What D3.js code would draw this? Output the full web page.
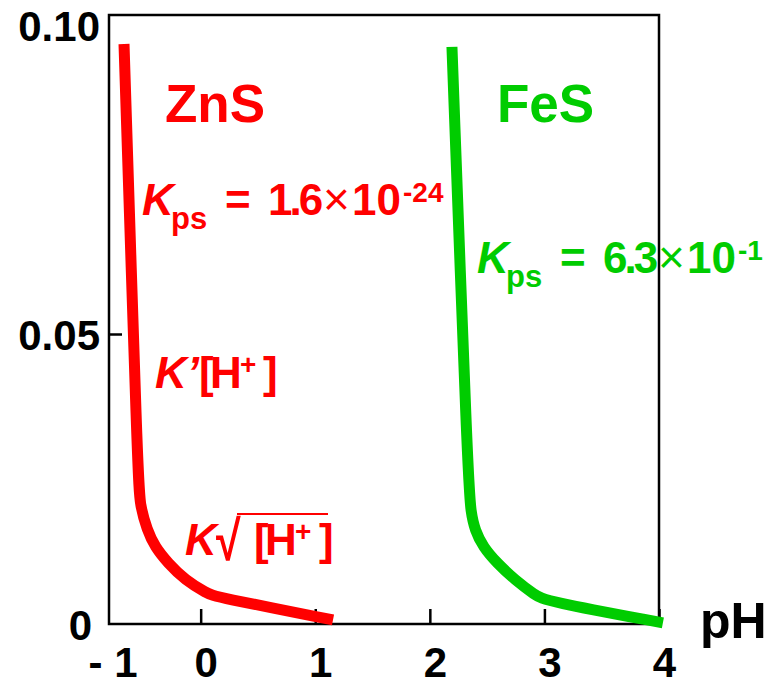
<!DOCTYPE html>
<meta charset="utf-8">
<script src="https://d3js.org/d3.v7.min.js"></script>
<style>
  body { margin: 0; background: #fff; }
  text { font-family: "Liberation Sans", Arial, sans-serif; font-weight: bold; }
</style>
<div id="viz"></div>
<script>
// values
var xTicks = [0, 1, 2, 3, 4];
var yTicks = [0, 0.05, 0.10];

// ZnS solubility vs pH
var znsPH  = [-0.669, -0.547, -0.529, -0.468, -0.399, -0.285, -0.137, 0.055, 0.125, 1.155];
var znsVal = [0.1000, 0.0248, 0.0205, 0.0162, 0.0133, 0.0105, 0.0076, 0.0053, 0.0047, 0.0007];

// FeS solubility vs pH
var fesPH  = [2.193, 2.333, 2.359, 2.394, 2.464, 2.586, 2.743, 2.918, 3.005, 4.034];
var fesVal = [0.0995, 0.0248, 0.0191, 0.0162, 0.0133, 0.0105, 0.0076, 0.0050, 0.0040, 0.0002];

var RED = "#ff0000", GREEN = "#00cc00";

var W = 769, H = 683;
var margin = {top: 15, right: 110, bottom: 59, left: 109};

var svg = d3.select("#viz").append("svg")
  .attr("width", W).attr("height", H);

var x = d3.scaleLinear().domain([-0.8, 4.0]).range([margin.left, W - margin.right]);
var y = d3.scaleLinear().domain([0, 0.105]).range([H - margin.bottom, margin.top]);

// frame
svg.append("rect")
  .attr("x", x(-0.8)).attr("y", y(0.105))
  .attr("width", x(4.0) - x(-0.8)).attr("height", y(0) - y(0.105))
  .attr("fill", "none").attr("stroke", "#000").attr("stroke-width", 2.5);

// x axis, ticks pointing inward
var gx = svg.append("g")
  .attr("transform", "translate(0," + y(0) + ")")
  .call(d3.axisBottom(x).tickValues(xTicks).tickSize(-15).tickPadding(23).tickFormat(d3.format("d")));
gx.select(".domain").remove();
gx.selectAll("line").attr("stroke-width", 2.5);
gx.selectAll("text").attr("font-size", 42).attr("fill", "#000")
  .attr("font-family", "Liberation Sans, Arial, sans-serif").attr("dx", 5);

// "-1" sits at the left edge of the frame
svg.append("text")
  .attr("x", x(-0.765)).attr("y", y(0) + 53)
  .attr("text-anchor", "middle").attr("font-size", 42)
  .text("- 1");

// y axis
var gy = svg.append("g")
  .attr("transform", "translate(" + x(-0.8) + ",0)")
  .call(d3.axisLeft(y).tickValues(yTicks).tickSize(-13).tickPadding(9)
    .tickFormat(function(d) { return d === 0 ? "0" : d3.format(".2f")(d); }));
gy.select(".domain").remove();
gy.selectAll(".tick line").filter(function(d) { return d !== 0.05; }).remove();
gy.selectAll("line").attr("stroke-width", 2.5);
gy.selectAll("text").attr("font-size", 42).attr("fill", "#000")
  .attr("font-family", "Liberation Sans, Arial, sans-serif")
  .attr("dy", function(d) { return d === 0.10 ? "-0.08em" : "0.38em"; })
  .attr("x", function(d) { return d === 0 ? -17 : -9; });

svg.append("text")
  .attr("x", 700).attr("y", 638)
  .attr("font-size", 50)
  .text("pH");

// curves
var line = d3.line()
  .x(function(d) { return x(d[0]); })
  .y(function(d) { return y(d[1]); })
  .curve(d3.curveBasis);

svg.append("path")
  .datum(d3.zip(znsPH, znsVal))
  .attr("d", line)
  .attr("fill", "none").attr("stroke", RED).attr("stroke-width", 11);

svg.append("path")
  .datum(d3.zip(fesPH, fesVal))
  .attr("d", line)
  .attr("fill", "none").attr("stroke", GREEN).attr("stroke-width", 11);

// labels
svg.append("text").attr("x", 165).attr("y", 122).attr("font-size", 53).attr("fill", RED).text("ZnS");
svg.append("text").attr("x", 497).attr("y", 122).attr("font-size", 53).attr("fill", GREEN).text("FeS");

function kpsLabel(x0, y0, color, mant, expo) {
  var t = svg.append("text").attr("transform", "translate(" + x0 + "," + y0 + ")")
    .attr("fill", color).attr("font-size", 44);
  t.append("tspan").attr("x", 0).attr("y", 0).attr("font-style", "italic").text("K");
  t.append("tspan").attr("x", 29).attr("y", 14).attr("font-size", 31).text("ps");
  t.append("tspan").attr("x", 83).attr("y", 0).text("=");
  t.append("tspan").attr("x", 126).attr("y", 0).attr("letter-spacing", -3).text(mant);
  t.append("tspan").attr("x", 181).attr("y", 0).attr("font-weight", "normal").attr("font-size", 46).text("\u00d7");
  t.append("tspan").attr("x", 210).attr("y", 0).text("10");
  t.append("tspan").attr("x", 261).attr("y", -13).attr("font-size", 28).text(expo);
}
kpsLabel(142, 215, RED, "1.6", "-24");
kpsLabel(477, 273, GREEN, "6.3", "-1");

// K'[H+]
var k1 = svg.append("text").attr("transform", "translate(155,388)")
  .attr("fill", RED).attr("font-size", 44);
k1.append("tspan").attr("x", 0).attr("y", 0).attr("font-style", "italic").text("K\u2019");
k1.append("tspan").attr("x", 44).attr("y", 0).text("[");
k1.append("tspan").attr("x", 55).attr("y", 0).text("H");
k1.append("tspan").attr("x", 85).attr("y", -14).attr("font-size", 28).text("+");
k1.append("tspan").attr("x", 108).attr("y", 0).text("]");

// K sqrt([H+])
var k2 = svg.append("g").attr("transform", "translate(185,555)");
var k2t = k2.append("text").attr("fill", RED).attr("font-size", 44);
k2t.append("tspan").attr("x", 0).attr("y", 0).attr("font-style", "italic").text("K");
k2t.append("tspan").attr("x", 69).attr("y", 0).text("[");
k2t.append("tspan").attr("x", 80).attr("y", 0).text("H");
k2t.append("tspan").attr("x", 110).attr("y", -14).attr("font-size", 28).text("+");
k2t.append("tspan").attr("x", 134).attr("y", 0).text("]");
k2.append("text").attr("transform", "translate(31,5) scale(0.8,1)")
  .attr("fill", RED).attr("font-size", 56).attr("font-weight", "normal").text("\u221a");
k2.append("line").attr("x1", 52).attr("x2", 143).attr("y1", -41).attr("y2", -41)
  .attr("stroke", RED).attr("stroke-width", 2);
</script>
